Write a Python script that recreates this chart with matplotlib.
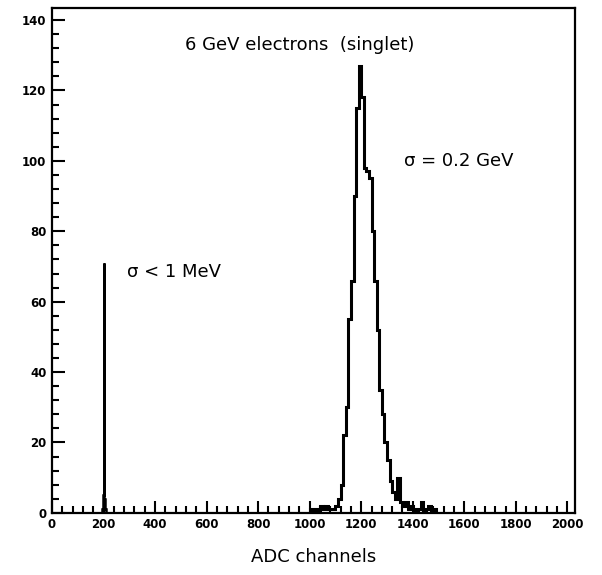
import numpy as np
import matplotlib
matplotlib.use("Agg")
import matplotlib.pyplot as plt
from matplotlib.ticker import MultipleLocator

# pedestal (2-channel bins)
ped_edges = [194, 196, 198, 200, 202, 204, 206, 208]
ped_counts = [1, 2, 5, 71, 4, 2, 1]

# electron peak (10-channel bins, left edges from 1000)
peak_start = 1000
peak_counts = [1, 0, 1, 0, 2, 1, 2, 1, 1, 1,
               2, 4, 8, 22, 30, 55, 66, 90, 115, 127,
               118, 98, 97, 95, 80, 66, 52, 35, 28, 20,
               15, 9, 6, 4, 10, 3, 2, 3, 1, 2,
               1, 0, 1, 3, 0, 1, 2, 0, 1]

xticks = [0, 200, 400, 600, 800, 1000, 1200, 1400, 1600, 1800, 2000]
yticks = [0, 20, 40, 60, 80, 100, 120, 140]

fig = plt.figure(figsize=(6.02, 5.75), dpi=100)
ax = fig.add_axes([0.0864, 0.108, 0.869, 0.878])

peak_edges = peak_start + 10 * np.arange(len(peak_counts) + 1)
ax.stairs(ped_counts, ped_edges, color="black", lw=1.8)
ax.stairs(peak_counts, peak_edges, color="black", lw=2.2)

ax.set_xlim(0, 2030)
ax.set_ylim(0, 143.4)
ax.set_xticks(xticks)
ax.set_yticks(yticks)
ax.xaxis.set_minor_locator(MultipleLocator(40))
ax.yaxis.set_minor_locator(MultipleLocator(4))
ax.tick_params(which="major", direction="in", length=9, width=1.5,
               labelsize=8.5, pad=4)
ax.tick_params(which="minor", direction="in", length=5, width=1.5)
for lab in ax.get_xticklabels() + ax.get_yticklabels():
    lab.set_fontweight("bold")
for s in ax.spines.values():
    s.set_linewidth(1.6)

ax.text(960, 133, "6 GeV electrons  (singlet)", fontsize=13, ha="center", va="center")
ax.text(1365, 100, "\u03c3 = 0.2 GeV", fontsize=13, ha="left", va="center")
ax.text(292, 68.5, "\u03c3 < 1 MeV", fontsize=13, ha="left", va="center")
ax.set_xlabel("ADC channels", fontsize=13, labelpad=12)

fig.savefig("out.png", dpi=100)
